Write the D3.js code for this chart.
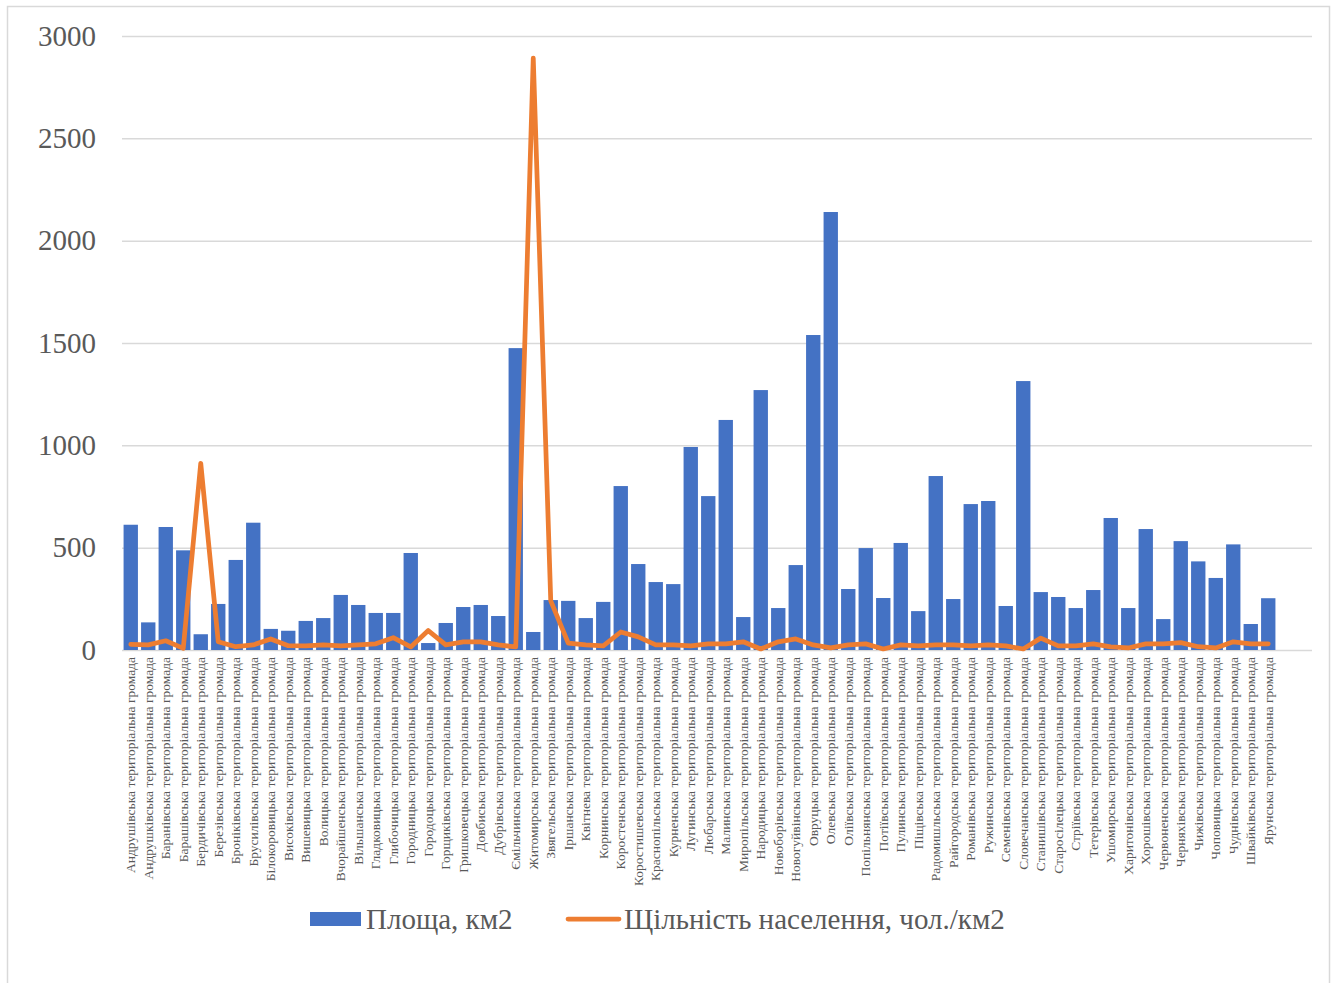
<!DOCTYPE html>
<html>
<head>
<meta charset="utf-8">
<script src="https://cdn.jsdelivr.net/npm/d3@7/dist/d3.min.js"></script>
<style>
  html, body { margin: 0; padding: 0; background: #ffffff; }
  svg { display: block; }
</style>
</head>
<body>
<script>
// Територіальні громади Житомирської області
const communities = [
  "Андрушівська територіальна громада",
  "Андрушківська територіальна громада",
  "Баранівська територіальна громада",
  "Барашівська територіальна громада",
  "Бердичівська територіальна громада",
  "Березівська територіальна громада",
  "Броніківська територіальна громада",
  "Брусилівська територіальна громада",
  "Білокоровицька територіальна громада",
  "Високівська територіальна громада",
  "Вишевицька територіальна громада",
  "Волицька територіальна громада",
  "Вчорайшенська територіальна громада",
  "Вільшанська територіальна громада",
  "Гладковицька територіальна громада",
  "Глибочицька територіальна громада",
  "Городницька територіальна громада",
  "Городоцька територіальна громада",
  "Горщиківська територіальна громада",
  "Гришковецька територіальна громада",
  "Довбиська територіальна громада",
  "Дубрівська територіальна громада",
  "Ємільчинська територіальна громада",
  "Житомирська територіальна громада",
  "Звягельська територіальна громада",
  "Іршанська територіальна громада",
  "Квітнева територіальна громада",
  "Корнинська територіальна громада",
  "Коростенська територіальна громада",
  "Коростишевська територіальна громада",
  "Краснопільська територіальна громада",
  "Курненська територіальна громада",
  "Лугинська територіальна громада",
  "Любарська територіальна громада",
  "Малинська територіальна громада",
  "Миропільська територіальна громада",
  "Народицька територіальна громада",
  "Новоборівська територіальна громада",
  "Новогуйвінська територіальна громада",
  "Овруцька територіальна громада",
  "Олевська територіальна громада",
  "Оліївська територіальна громада",
  "Попільнянська територіальна громада",
  "Потіївська територіальна громада",
  "Пулинська територіальна громада",
  "Піщівська територіальна громада",
  "Радомишльська територіальна громада",
  "Райгородська територіальна громада",
  "Романівська територіальна громада",
  "Ружинська територіальна громада",
  "Семенівська територіальна громада",
  "Словечанська територіальна громада",
  "Станишівська територіальна громада",
  "Старосілецька територіальна громада",
  "Стріївська територіальна громада",
  "Тетерівська територіальна громада",
  "Ушомирська територіальна громада",
  "Харитонівська територіальна громада",
  "Хорошівська територіальна громада",
  "Червоненська територіальна громада",
  "Черняхівська територіальна громада",
  "Чижівська територіальна громада",
  "Чоповицька територіальна громада",
  "Чуднівська територіальна громада",
  "Швайківська територіальна громада",
  "Ярунська територіальна громада"
];

// Площа, км2
const areaKm2 = [
  612, 135, 601, 487, 77, 225, 440, 622, 103, 94,
  142, 156, 269, 220, 181, 181, 474, 34, 132, 210,
  220, 166, 1475, 88, 244, 240, 156, 235, 801, 420,
  332, 322, 992, 752, 1124, 161, 1270, 205, 415, 1539,
  2140, 298, 498, 254, 523, 190, 850, 249, 713, 728,
  215, 1314, 283, 259, 205, 293, 645, 205, 591, 151,
  532, 433, 352, 516, 127, 253
];

// Щільність населення, чол./км2
const densityPerKm2 = [
  28, 25, 45, 8, 912, 40, 16, 25, 54, 21,
  20, 25, 20, 25, 30, 60, 15, 95, 25, 40,
  40, 25, 15, 2892, 240, 34, 25, 20, 88, 64,
  25, 25, 20, 30, 30, 40, 5, 40, 54, 25,
  10, 25, 30, 5, 25, 20, 25, 25, 20, 25,
  20, 5, 58, 20, 20, 30, 15, 10, 30, 30,
  36, 16, 10, 40, 30, 30
];

const yTicks = [0, 500, 1000, 1500, 2000, 2500, 3000];
const seriesNames = ["Площа, км2", "Щільність населення, чол./км2"];

const W = 1336, H = 983;
const plot = { left: 122, right: 1312, top: 36, bottom: 650 };
// the category axis keeps two empty slots after the last community
const slotCount = communities.length + 2;

const colors = { bar: "#4472C4", line: "#ED7D31", grid: "#D9D9D9", text: "#595959" };
const serif = "'Liberation Serif', 'Times New Roman', serif";

const svg = d3.select("body").append("svg")
  .attr("width", W).attr("height", H)
  .style("font-family", serif);

// chart frame
svg.append("rect")
  .attr("x", 7.5).attr("y", 6.5)
  .attr("width", 1322).attr("height", 990)
  .attr("fill", "#ffffff")
  .attr("stroke", colors.grid).attr("stroke-width", 1.5);

const step = (plot.right - plot.left) / slotCount;
const x = d3.scaleBand()
  .domain(communities)
  .range([plot.left, plot.left + step * communities.length])
  .paddingInner(0.18)
  .paddingOuter(0.09);

const y = d3.scaleLinear()
  .domain([0, 3000])
  .range([plot.bottom, plot.top]);

// value axis with gridlines
const yAxis = svg.append("g")
  .attr("transform", `translate(${plot.left},0)`)
  .call(d3.axisLeft(y)
    .tickValues(yTicks)
    .tickSize(-(plot.right - plot.left))
    .tickPadding(26)
    .tickFormat(d3.format("d")));
yAxis.select(".domain").remove();
yAxis.selectAll(".tick line")
  .attr("stroke", colors.grid).attr("stroke-width", 1.5);
yAxis.selectAll(".tick text")
  .attr("fill", colors.text)
  .style("font-family", serif)
  .style("font-size", "29px");

// bars: area
svg.append("g").selectAll("rect")
  .data(communities)
  .join("rect")
  .attr("x", d => x(d))
  .attr("width", x.bandwidth())
  .attr("y", (d, i) => y(areaKm2[i]))
  .attr("height", (d, i) => y(0) - y(areaKm2[i]))
  .attr("fill", colors.bar);

// line: population density
const line = d3.line()
  .x((d, i) => x(communities[i]) + x.bandwidth() / 2)
  .y(d => y(d));
svg.append("path")
  .datum(densityPerKm2)
  .attr("d", line)
  .attr("fill", "none")
  .attr("stroke", colors.line)
  .attr("stroke-width", 4.75)
  .attr("stroke-linejoin", "round")
  .attr("stroke-linecap", "round");

// category axis
const xAxis = svg.append("g")
  .attr("transform", `translate(0,${plot.bottom})`)
  .call(d3.axisBottom(x).tickSize(0).tickPadding(0));
xAxis.select(".domain").remove();
xAxis.selectAll(".tick text")
  .attr("fill", colors.text)
  .style("font-family", serif)
  .style("font-size", "13.5px")
  .attr("text-anchor", "end")
  .attr("transform", "rotate(-90)")
  .attr("x", -7)
  .attr("y", 0)
  .attr("dy", "0.35em");

// legend
const legend = svg.append("g").attr("class", "legend");
const lg1 = legend.append("g").attr("transform", "translate(310,919)");
lg1.append("rect")
  .attr("x", 0).attr("y", -7).attr("width", 51).attr("height", 14)
  .attr("fill", colors.bar);
lg1.append("text")
  .attr("x", 56).attr("y", 0).attr("dy", "0.35em")
  .attr("fill", colors.text).style("font-size", "29px")
  .text(seriesNames[0]);

const lg2 = legend.append("g").attr("transform", "translate(566,919)");
lg2.append("line")
  .attr("x1", 2).attr("x2", 53).attr("y1", 0).attr("y2", 0)
  .attr("stroke", colors.line).attr("stroke-width", 4.75)
  .attr("stroke-linecap", "round");
lg2.append("text")
  .attr("x", 58).attr("y", 0).attr("dy", "0.35em")
  .attr("fill", colors.text).style("font-size", "29px")
  .text(seriesNames[1]);
</script>
</body>
</html>
